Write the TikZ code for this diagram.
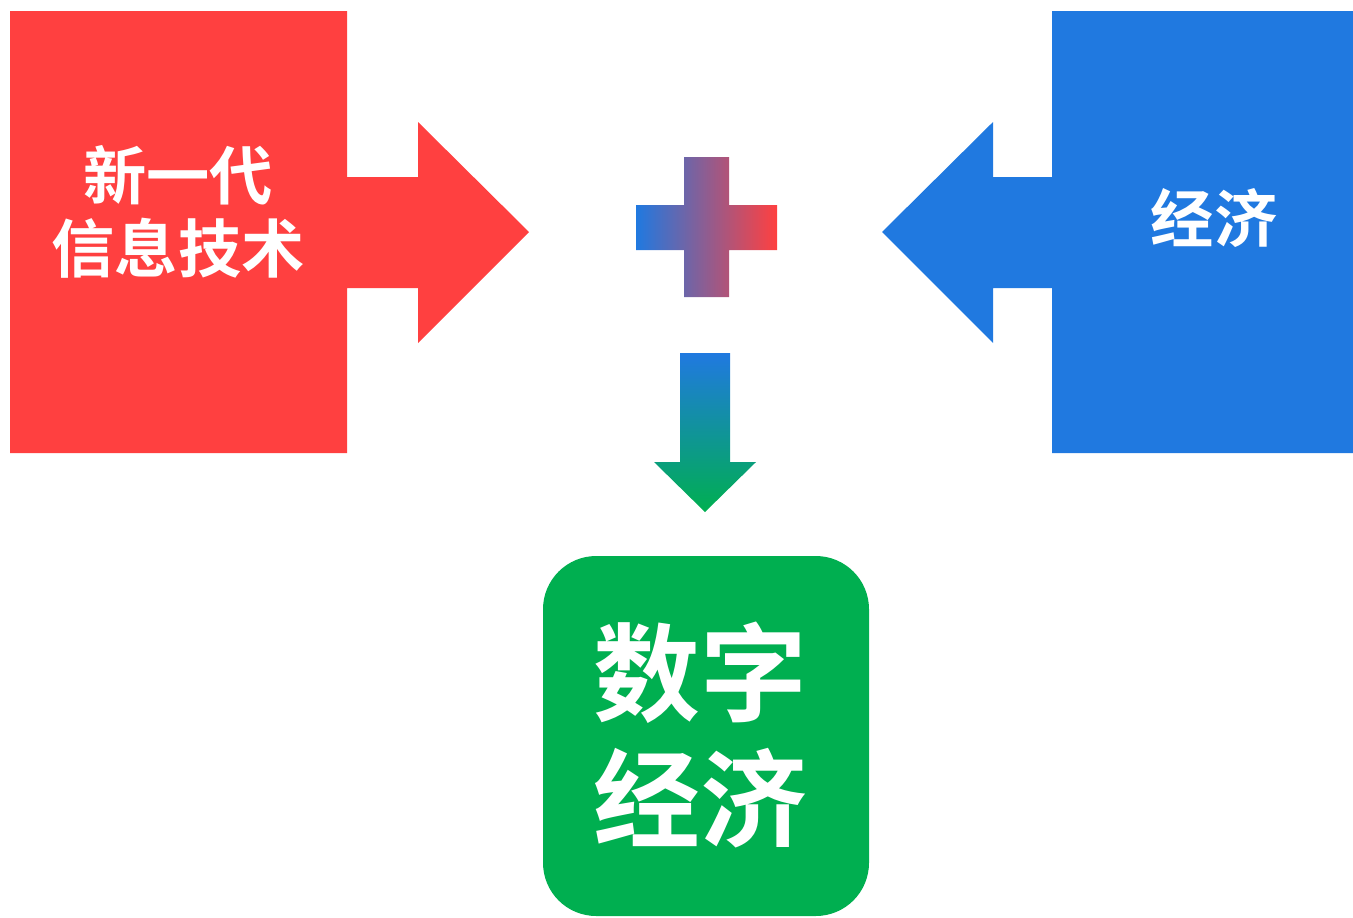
\documentclass[tikz,border=0pt]{standalone}
\usepackage{fontspec}
\newfontfamily\cjk{Noto Sans CJK SC}[BoldFont={Noto Sans CJK SC Bold}]
\definecolor{redarrow}{RGB}{255,64,64}
\definecolor{bluearrow}{RGB}{32,121,224}
\definecolor{greenbox}{RGB}{0,175,80}
\tikzset{
  label/.style={text=white,align=center,font=\cjk\bfseries\fontsize{45}{52}\selectfont},
  biglabel/.style={text=white,align=center,font=\cjk\bfseries\fontsize{76}{89}\selectfont}
}
\begin{document}
\begin{tikzpicture}[x=0.025cm,y=-0.025cm]
			\useasboundingbox (0,0) rectangle (1353,917);
			% left block with arrow
			\fill[redarrow] (10,11)--(347,11)--(347,177)--(418,177)--(418,122)--(529,232)
				--(418,343)--(418,288)--(347,288)--(347,453)--(10,453)--cycle;
			% right block with arrow
			\fill[bluearrow] (1353,11)--(1052,11)--(1052,177)--(993,177)--(993,122)--(882,232)
				--(993,343)--(993,288)--(1052,288)--(1052,453)--(1353,453)--cycle;
			% plus sign
			\shade[left color=bluearrow,right color=redarrow] (684,157)--(729,157)--(729,205)--(777,205)
				--(777,250)--(729,250)--(729,297)--(684,297)--(684,250)--(636,250)--(636,205)--(684,205)--cycle;
			% down arrow
			\shade[top color=bluearrow,bottom color=greenbox] (680,353)--(730,353)--(730,462)--(756,462)
				--(705,512)--(654,462)--(680,462)--cycle;
			% result box
			\fill[greenbox,rounded corners=1.33cm] (543,556) rectangle (869,916);
			\node[label] (tech) at (178,212) {新一代\\信息技术};
			\node[label] (econ) at (1214,218) {经济};
			\node[biglabel] (digital) at (700,735) {数字\\经济};
		\end{tikzpicture}
\end{document}
